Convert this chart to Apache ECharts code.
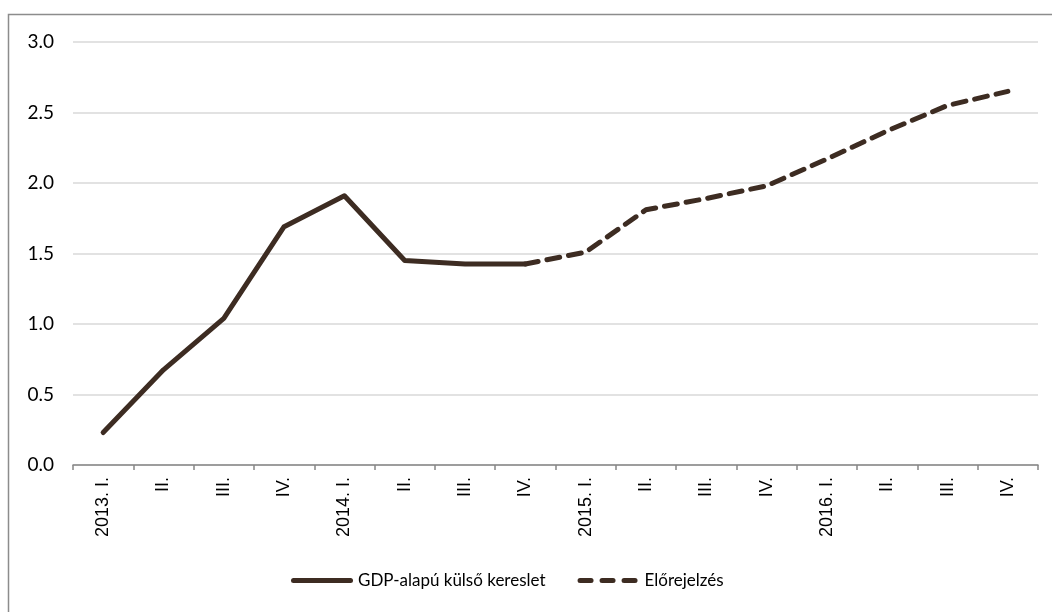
<!DOCTYPE html>
<html>
<head>
<meta charset="utf-8">
<script src="https://cdn.jsdelivr.net/npm/echarts@6/dist/echarts.min.js"></script>
<style>
html,body{margin:0;padding:0;background:#fff;}
#chart{width:1052px;height:612px;}
</style>
</head>
<body>
<div id="chart"></div>
<script>
const categories = ['2013. I.','II.','III.','IV.','2014. I.','II.','III.','IV.','2015. I.','II.','III.','IV.','2016. I.','II.','III.','IV.'];
const demandValues = [0.23, 0.675, 1.04, 1.69, 1.91, 1.45, 1.425, 1.425, null, null, null, null, null, null, null, null];
const forecastValues = [null, null, null, null, null, null, null, 1.425, 1.51, 1.81, 1.89, 1.98, 2.17, 2.37, 2.55, 2.65];
const seriesNames = ['GDP-alapú külső kereslet', 'Előrejelzés'];
const yTicks = {min: 0, max: 3, interval: 0.5};

const lineColor = '#3d2c22';
const chart = echarts.init(document.getElementById('chart'), null, {renderer: 'canvas'});
chart.setOption({
  animation: false,
  backgroundColor: '#fff',
  graphic: [{
    type: 'rect',
    shape: {x: 8.5, y: 14.5, width: 1200, height: 800},
    style: {fill: 'none', stroke: '#8c8c8c', lineWidth: 1.5},
    silent: true, z: -1
  }],
  grid: {left: 73, right: 14, top: 42, bottom: 147, containLabel: false},
  legend: {
    bottom: 18,
    left: 286,
    itemWidth: 62,
    itemHeight: 5,
    itemGap: 32,
    textStyle: {fontFamily: 'Lato', fontSize: 17, color: '#000'},
    data: [
      {name: seriesNames[0], icon: 'path://M2.5,0 L59.5,0 A2.5,2.5 0 0 1 59.5,5 L2.5,5 A2.5,2.5 0 0 1 2.5,0 Z'},
      {name: seriesNames[1], icon: 'path://M2.5,0 L13.5,0 A2.5,2.5 0 0 1 13.5,5 L2.5,5 A2.5,2.5 0 0 1 2.5,0 Z M24.5,0 L35.5,0 A2.5,2.5 0 0 1 35.5,5 L24.5,5 A2.5,2.5 0 0 1 24.5,0 Z M46.5,0 L57.5,0 A2.5,2.5 0 0 1 57.5,5 L46.5,5 A2.5,2.5 0 0 1 46.5,0 Z M0,0 L0,0 M62,5 L62,5'}
    ]
  },
  xAxis: {
    type: 'category',
    data: categories,
    boundaryGap: true,
    axisLine: {lineStyle: {color: '#878787', width: 1.5}},
    axisTick: {show: true, interval: 0, length: 5, lineStyle: {color: '#878787', width: 1.5}},
    axisLabel: {interval: 0, rotate: 90, margin: 12, fontFamily: 'Liberation Sans', fontSize: 18, color: '#000'}
  },
  yAxis: {
    type: 'value',
    min: yTicks.min, max: yTicks.max, interval: yTicks.interval,
    axisLine: {show: false},
    axisTick: {show: false},
    splitLine: {lineStyle: {color: '#d9d9d9', width: 1.5}},
    axisLabel: {margin: 19, fontFamily: 'Lato', fontSize: 19, color: '#000',
      formatter: v => v.toFixed(1)}
  },
  series: [
    {
      name: seriesNames[0], type: 'line', data: demandValues,
      symbol: 'none', connectNulls: false,
      lineStyle: {color: lineColor, width: 5, cap: 'round', join: 'round'},
      itemStyle: {color: lineColor}
    },
    {
      name: seriesNames[1], type: 'line', data: forecastValues,
      symbol: 'none', connectNulls: false,
      lineStyle: {color: lineColor, width: 5, type: [13, 9], cap: 'round', join: 'round'},
      itemStyle: {color: lineColor}
    }
  ]
});
</script>
</body>
</html>
